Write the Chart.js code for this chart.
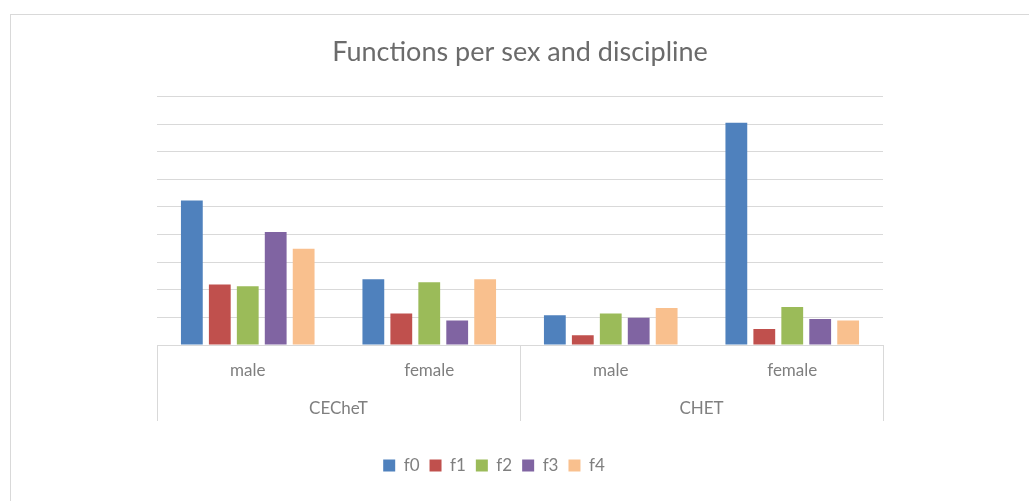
<!DOCTYPE html>
<html>
<head>
<meta charset="utf-8">
<script src="https://cdn.jsdelivr.net/npm/chart.js@4.4.1/dist/chart.umd.min.js"></script>
<style>
  html, body { margin: 0; padding: 0; background: #ffffff; }
  #wrap { width: 1029px; height: 501px; position: relative; }
</style>
</head>
<body>
<div id="wrap"><canvas id="myChart" width="1029" height="501"></canvas></div>
<script>
// Categorías: sexo dentro de cada disciplina
var sexes = ['male', 'female', 'male', 'female'];
var disciplines = ['CECheT', 'CHET'];
var seriesNames = ['f0', 'f1', 'f2', 'f3', 'f4'];

// Valores (en unidades de línea de cuadrícula)
var f0 = [5.23, 2.38, 1.08, 8.05];
var f1 = [2.19, 1.14, 0.35, 0.58];
var f2 = [2.13, 2.27, 1.14, 1.38];
var f3 = [4.09, 0.89, 0.99, 0.94];
var f4 = [3.48, 2.38, 1.34, 0.89];

var colors = ['#4F81BD', '#C0504D', '#9BBB59', '#8064A2', '#F9C08E'];
var gridColor = '#d9d9d9';
var textColor = '#7f7f7f';

document.addEventListener('DOMContentLoaded', function () {
    var ctx = document.getElementById('myChart').getContext('2d');

    // Marco exterior, separadores de grupos del eje y leyenda desplazada
    var framePlugin = {
        id: 'frame',
        afterLayout: function (chart) {
            // la leyenda del original no está centrada: moverla a la izquierda
            chart.legend.left -= 26;
            chart.legend.right -= 26;
        },
        beforeDraw: function (chart) {
            var c = chart.ctx;
            c.save();
            c.strokeStyle = gridColor;
            c.lineWidth = 1;
            c.strokeRect(10.5, 14.5, 1100, 600);
            c.restore();
        },
        afterDraw: function (chart) {
            var x = chart.scales.x;
            var x2 = chart.scales.x2;
            var c = chart.ctx;
            var n = disciplines.length;
            var step = (x2.right - x2.left) / n;
            c.save();
            c.strokeStyle = gridColor;
            c.lineWidth = 1;
            for (var i = 0; i <= n; i++) {
                var px = Math.round(x2.left + step * i) + 0.5;
                c.beginPath();
                c.moveTo(px, x.top);
                c.lineTo(px, x2.top + 38);
                c.stroke();
            }
            c.restore();
        }
    };

    var datasets = [f0, f1, f2, f3, f4].map(function (vals, i) {
        return {
            label: seriesNames[i],
            data: vals,
            backgroundColor: colors[i],
            borderWidth: 0,
            categoryPercentage: 0.77,
            barPercentage: 0.78,
            xAxisID: 'x'
        };
    });

    new Chart(ctx, {
        type: 'bar',
        data: { labels: sexes, datasets: datasets },
        plugins: [framePlugin],
        options: {
            responsive: false,
            animation: false,
            layout: { padding: { left: 157, right: 146, top: 24, bottom: 17 } },
            plugins: {
                title: {
                    display: true,
                    text: 'Functions per sex and discipline',
                    color: '#6b6b6b',
                    font: { family: 'Lato', size: 27, weight: 'normal' },
                    padding: { top: 12, bottom: 28 }
                },
                legend: {
                    position: 'bottom',
                    labels: {
                        color: textColor,
                        font: { family: 'Lato', size: 17 },
                        boxWidth: 12,
                        boxHeight: 12,
                        padding: 10
                    }
                },
                tooltip: { enabled: false }
            },
            scales: {
                x: {
                    position: 'bottom',
                    grid: { display: false, drawTicks: false },
                    border: { display: true, color: gridColor },
                    ticks: {
                        color: textColor,
                        font: { family: 'Lato', size: 17 },
                        padding: 15
                    },
                    afterFit: function (s) { s.height = 38; }
                },
                x2: {
                    type: 'category',
                    position: 'bottom',
                    labels: disciplines,
                    offset: true,
                    grid: { display: false, drawTicks: false },
                    border: { display: false },
                    ticks: {
                        color: textColor,
                        font: { family: 'Lato', size: 17 },
                        padding: 15
                    },
                    afterFit: function (s) { s.height = 64; }
                },
                y: {
                    min: 0,
                    max: 9,
                    ticks: { display: false, stepSize: 1 },
                    grid: { color: gridColor, lineWidth: 1, drawTicks: false },
                    border: { display: false },
                    afterFit: function (s) { s.width = 0; }
                }
            }
        }
    });
});
</script>
</body>
</html>
